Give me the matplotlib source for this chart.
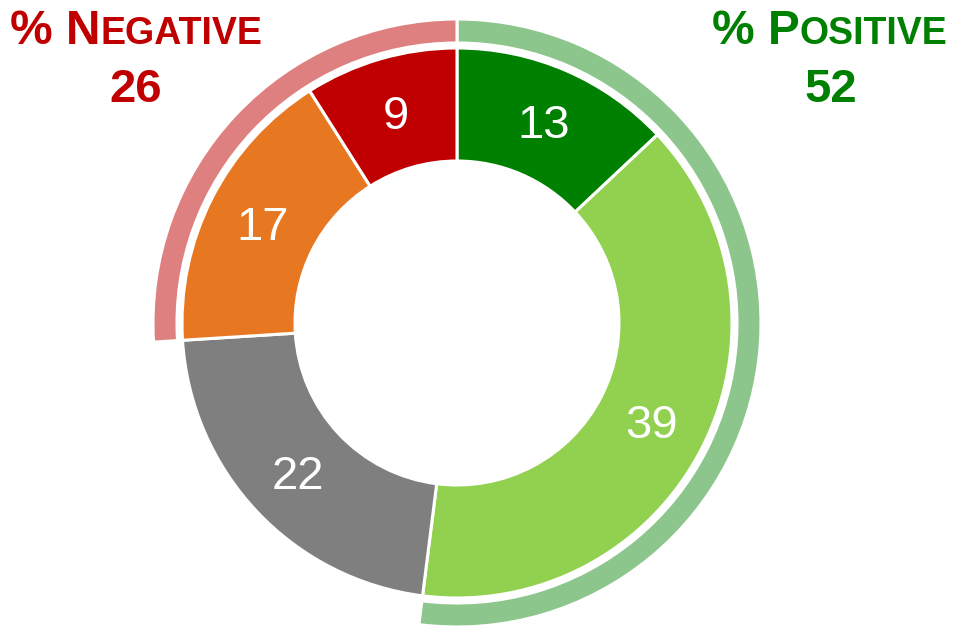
import matplotlib
matplotlib.use("Agg")
import matplotlib.pyplot as plt

# Data
categories = ["Very positive", "Positive", "Neutral", "Negative", "Very negative"]
values = [13, 39, 22, 17, 9]
seg_colors = ["#008000", "#92D050", "#7F7F7F", "#E87722", "#C00000"]
positive_total = 52
negative_total = 26
ring_values = [positive_total, 100 - positive_total - negative_total, negative_total]
ring_colors = ["#8DC68D", "#FFFFFF", "#DF8080"]
neg_title = ["% N", "EGATIVE"]
pos_title = ["% P", "OSITIVE"]

W, H = 956, 627
fig = plt.figure(figsize=(W / 100, H / 100), dpi=100)
ax = fig.add_axes([0, 0, 1, 1])

cx, cy = 457, H - 323
r_out, r_in = 275, 162

labels_iter = iter(values)
wedges, _, autotexts = ax.pie(
    values, startangle=90, counterclock=False, radius=r_out, center=(cx, cy),
    colors=seg_colors, frame=True,
    wedgeprops=dict(width=r_out - r_in, edgecolor="white", linewidth=2.2),
    autopct=lambda p: f"{next(labels_iter)}",
    pctdistance=(r_out + r_in) / 2 / r_out,
    textprops=dict(color="white", fontsize=34, family="Liberation Sans"),
)
for t in autotexts:
    x, y = t.get_position()
    t.set_position((x, y - 4))

ring_r = 304
ring_w, _ = ax.pie(
    ring_values, startangle=90, counterclock=False, radius=ring_r, center=(cx, cy),
    colors=ring_colors, frame=True,
    wedgeprops=dict(width=24, edgecolor="white", linewidth=2.2),
)
ring_w[1].set_visible(False)

ax.set_xlim(0, W)
ax.set_ylim(0, H)
ax.set_aspect("auto")
ax.axis("off")

renderer = fig.canvas.get_renderer()


def small_caps(xc, y_base, parts, color, big=34.5, small=27):
    t1 = ax.text(0, y_base, parts[0], fontsize=big, fontweight="bold", color=color,
                 family="Liberation Sans", va="baseline", ha="left")
    t2 = ax.text(0, y_base, parts[1], fontsize=small, fontweight="bold", color=color,
                 family="Liberation Sans", va="baseline", ha="left")
    w1 = t1.get_window_extent(renderer).width
    w2 = t2.get_window_extent(renderer).width
    x0 = xc - (w1 + w2) / 2
    t1.set_x(x0)
    t2.set_x(x0 + w1)


small_caps(136, H - 44, neg_title, "#C00000")
small_caps(830, H - 44, pos_title, "#008000")
ax.text(136, H - 102, f"{negative_total}", fontsize=34, fontweight="bold", color="#C00000",
        family="Liberation Sans", va="baseline", ha="center")
ax.text(831, H - 102, f"{positive_total}", fontsize=34, fontweight="bold", color="#008000",
        family="Liberation Sans", va="baseline", ha="center")

fig.savefig("out.png", dpi=100)
